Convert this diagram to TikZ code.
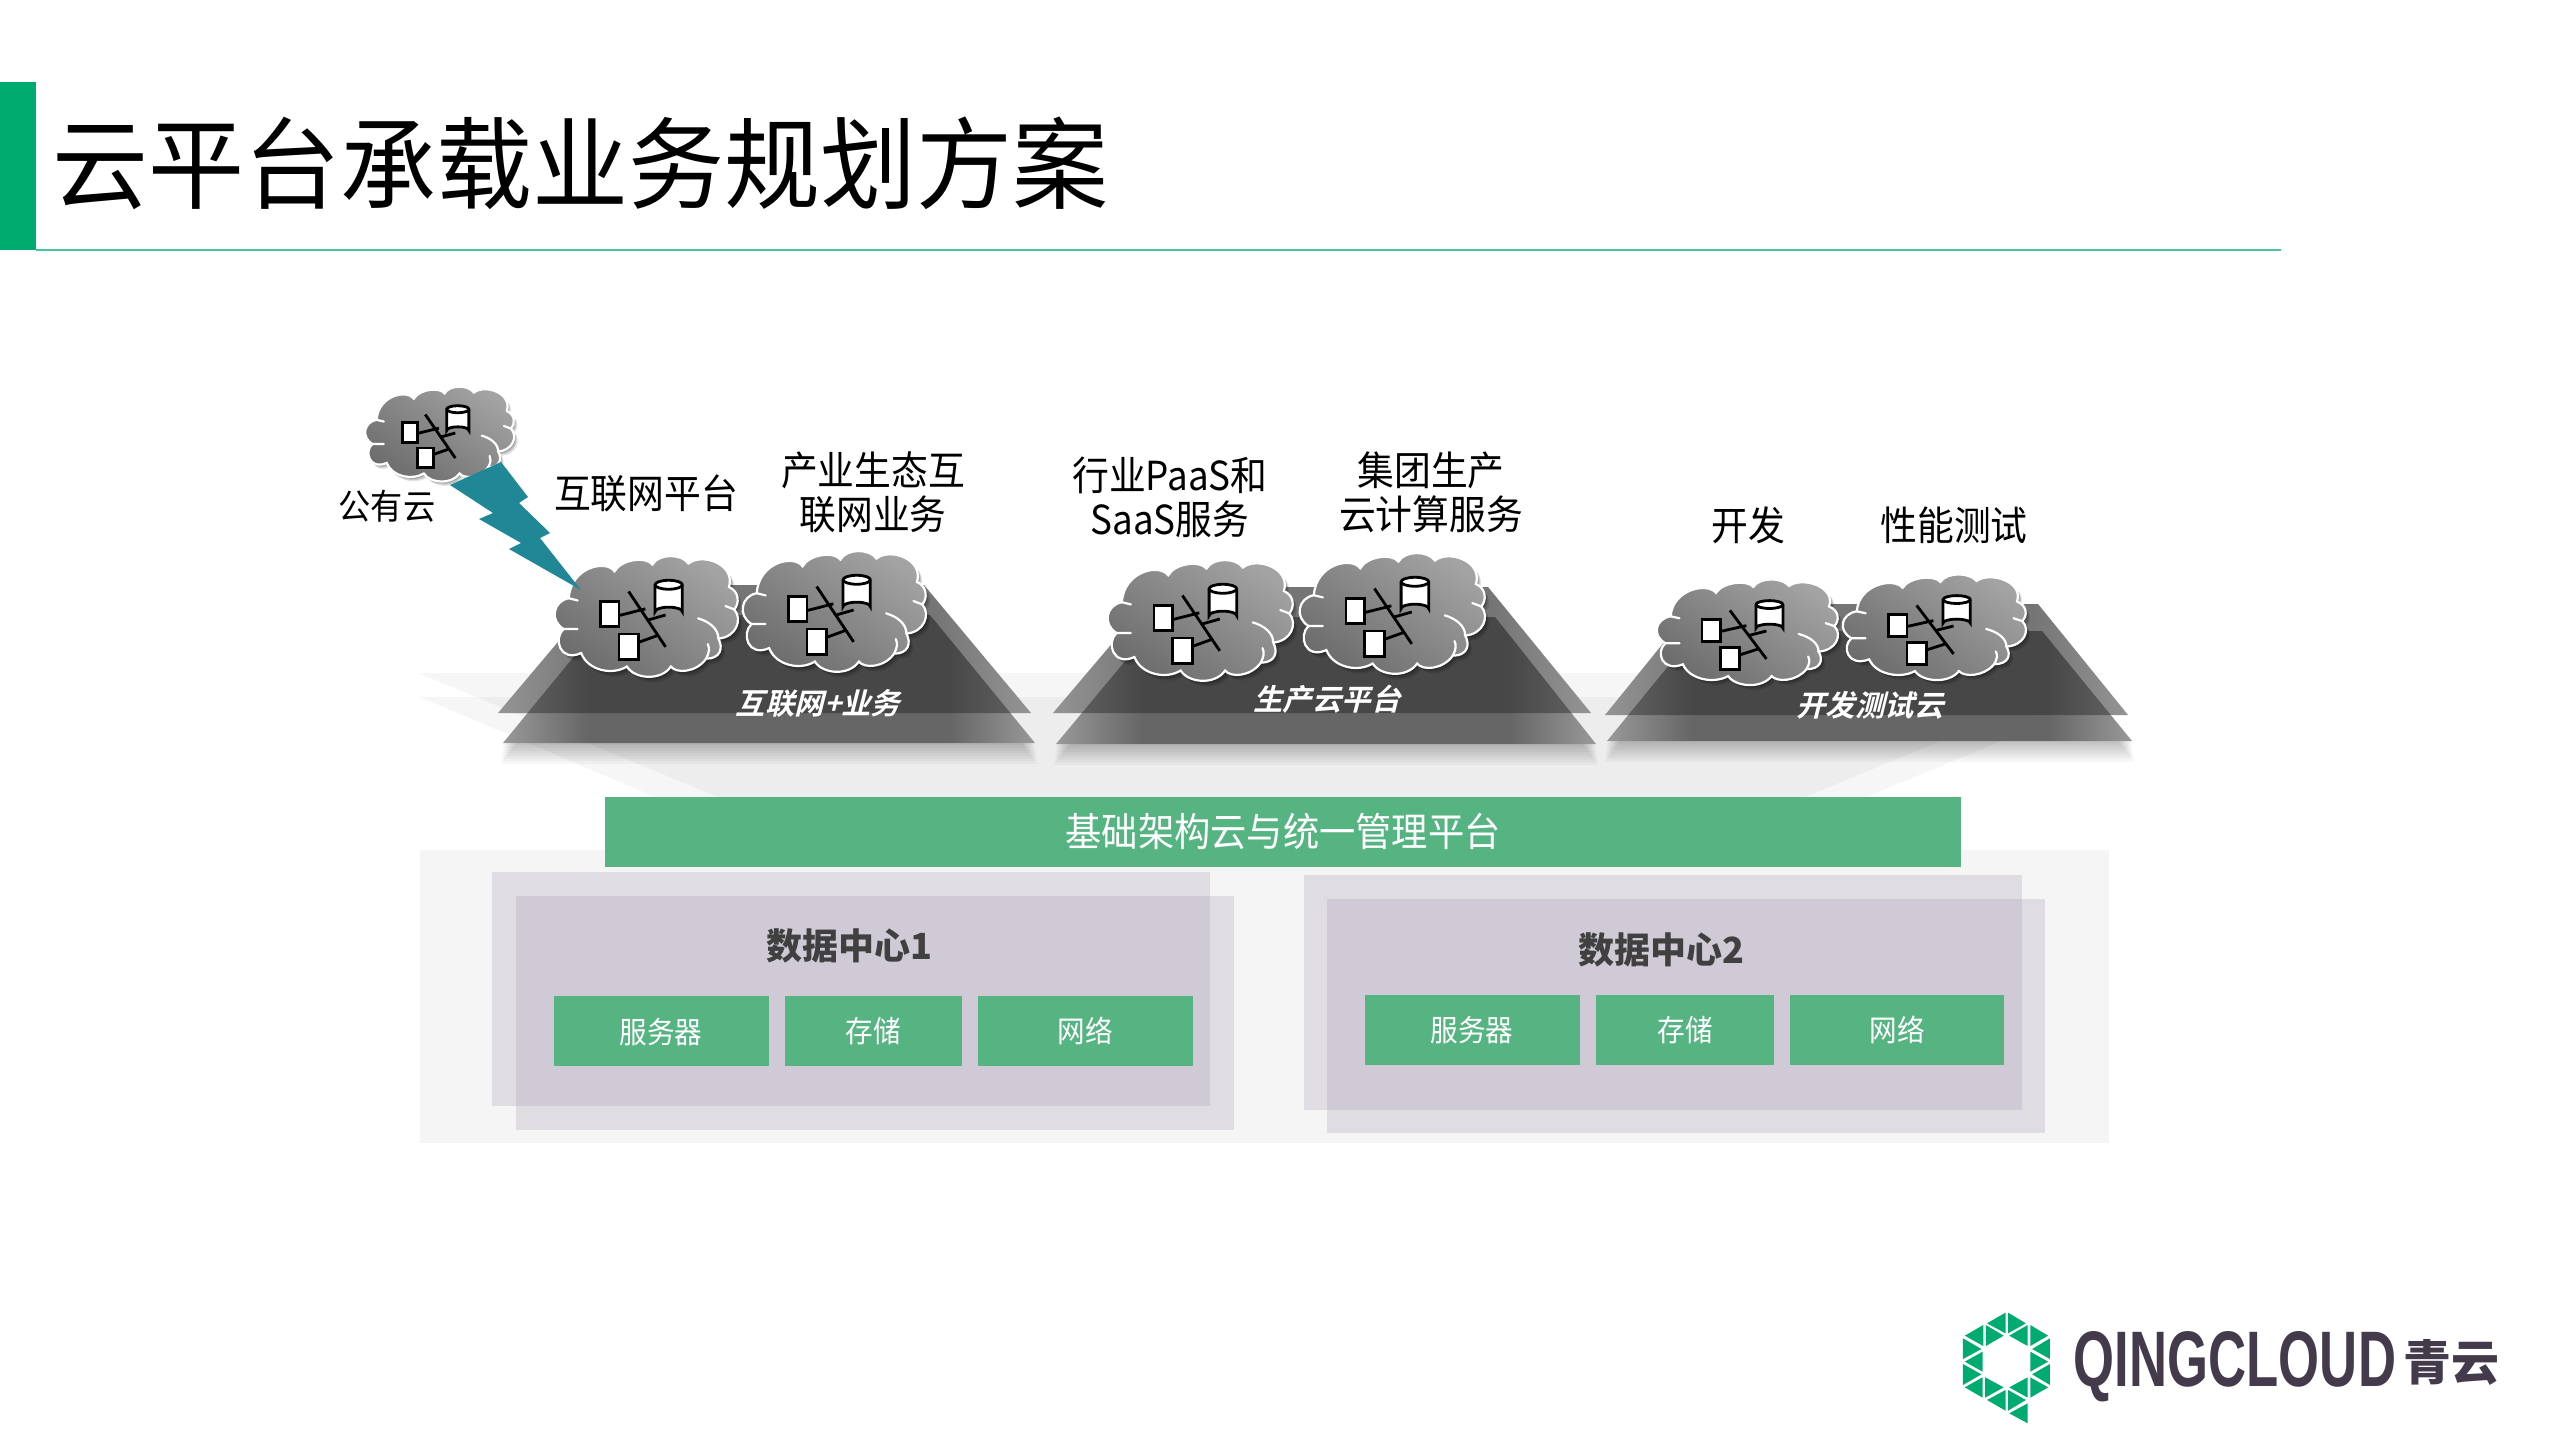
\documentclass[tikz,border=0pt]{standalone}
\usepackage{fontspec}
\usetikzlibrary{calc}
\newfontfamily\cjk{Noto Sans CJK SC}
\newfontfamily\cjkslant[FakeSlant=0.25]{Noto Sans CJK SC Bold}
\newfontfamily\cjktitle[FakeStretch=0.96]{Noto Sans CJK SC}
\newfontfamily\cjkn[FakeStretch=0.92]{Noto Sans CJK SC}
\newfontfamily\wordfont{Liberation Sans}
\definecolor{brand}{HTML}{00AB6F}
\definecolor{greenbox}{HTML}{56B482}
\definecolor{teal}{HTML}{1F8796}
\definecolor{dcl}{HTML}{DFDCE2}
\definecolor{dcd}{HTML}{CFCAD5}
\definecolor{logotext}{HTML}{433A4B}
\pgfdeclarehorizontalshading{upshade}{100bp}{color(0bp)=(black!42); color(25bp)=(black!42); color(34bp)=(black!54); color(66bp)=(black!54); color(75bp)=(black!42); color(100bp)=(black!42)}
\pgfdeclarehorizontalshading{lowshade}{100bp}{color(0bp)=(black!40); color(25bp)=(black!40); color(33bp)=(black!60); color(67bp)=(black!60); color(75bp)=(black!40); color(100bp)=(black!40)}
\pgfdeclarehorizontalshading{overshade}{100bp}{color(0bp)=(black!60); color(25bp)=(black!60); color(33bp)=(black!72); color(67bp)=(black!72); color(75bp)=(black!60); color(100bp)=(black!60)}
\tikzset{
  lab/.style={font=\cjkn\fontsize{20}{22}\selectfont,text=black,inner sep=0pt,align=center},
  whitelab/.style={font=\cjkn\fontsize{#1}{22}\selectfont,text=white,inner sep=0pt},
  slantlab/.style={font=\cjkslant\fontsize{14.7}{17}\selectfont,text=white,inner sep=0pt},
  dctitle/.style={font=\cjk\bfseries\fontsize{18}{20}\selectfont,text=black!75,inner sep=0pt},
  gbox/.style={fill=greenbox,draw=none},
  logotri/.style={fill=brand,draw=none},
}
\def\cloudshape{(-.90,-.30) .. controls (-.88,-.85) and (-.48,-1.0) .. (-.38,-.78)
 .. controls (-.3,-1.0) and (-.02,-1.05) .. (.05,-.90)
 .. controls (.12,-1.1) and (.38,-1.1) .. (.46,-.92)
 .. controls (.62,-1.12) and (1.0,-.9) .. (.92,-.50)
 .. controls (1.04,-.42) and (1.04,-.2) .. (.98,-.10)
 .. controls (1.08,.08) and (1.0,.4) .. (.80,.42)
 .. controls (.86,.6) and (.82,.78) .. (.66,.78)
 .. controls (.55,1.03) and (.32,1.05) .. (.26,.92)
 .. controls (.15,1.18) and (-.15,1.15) .. (-.24,.92)
 .. controls (-.4,1.08) and (-.68,1.0) .. (-.76,.68)
 .. controls (-1.0,.85) and (-1.08,.42) .. (-.96,.25)
 .. controls (-1.12,.1) and (-1.08,-.25) .. (-.90,-.30) -- cycle}
\newcommand{\cloudat}[4]{%
 \begin{scope}[shift={(#1,#2)},xscale=#3/2,yscale=#4/2]
  \foreach \s/\o in {.10/.10,.07/.14,.04/.20}{
    \fill[black,opacity=\o,shift={(\s*.5,\s)}] \cloudshape;}
  \shade[shading=axis,bottom color=black!58,top color=black!36,shading angle=-35,draw=white,line width=1.1pt] \cloudshape;
  \draw[white,line width=1.1pt,line cap=round]
    (.57,.06) .. controls (.7,.12) and (.8,.25) .. (.80,.42)
    (.98,-.10) -- (.88,-.16)
    (-.96,.25) -- (-.80,.25)
    (-.90,-.30) -- (-.80,-.26)
    (.66,.78) .. controls (.70,.65) and (.70,.6) .. (.68,.52);
  \draw[black,line width=1.4pt] (-.22,-.42) -- (.2,.57)
    (-.33,.01) -- (-.03,-.11) (-.11,.49) -- (.1,.37) (0,.09) -- (.2,0);
  \fill[white,draw=black,line width=1.4pt] (-.54,-.24) rectangle (-.33,.21);
  \fill[white,draw=black,line width=1.4pt] (-.33,.34) rectangle (-.11,.79);
  \fill[white,draw=black,line width=1.4pt] (.08,-.54) -- (.08,-.06) arc[start angle=180,end angle=360,x radius=.155,y radius=.08] -- (.39,-.54) arc[start angle=0,end angle=-180,x radius=.155,y radius=.08] -- cycle;
  \draw[black,line width=1.4pt] (.08,-.54) arc[start angle=180,end angle=0,x radius=.155,y radius=.08];
 \end{scope}}
\newcommand{\trapgroup}[8]{%
  \foreach \i in {1,...,8}{
    \fill[black,opacity=.03] ($#5+(\i*-.2,\i*1.5)$) -- ($#6+(\i*.2,\i*1.5)$) -- ($#7+(\i*.3,\i*2.6)$) -- ($#8+(\i*-.3,\i*2.6)$) -- cycle;}
  \shade[shading=lowshade] #5 -- #6 -- #7 -- #8 -- cycle;
  \shade[shading=upshade] #1 -- #2 -- #3 -- #4 -- cycle;
  \begin{scope}
    \clip #1 -- #2 -- #3 -- #4 -- cycle;
    \shade[shading=overshade] #5 -- #6 -- #7 -- #8 -- cycle;
  \end{scope}}
\begin{document}
\begin{tikzpicture}[x=0.5pt,y=-0.5pt]
\useasboundingbox (0,0) rectangle (2559,1439);
\fill[white] (0,0) rectangle (2559,1439);
% title
\fill[brand] (0,82) rectangle (36,250);
\draw[brand!70,line width=1pt] (36,250.5) -- (2281,250.5);
\node[anchor=west,inner sep=0pt,font=\cjktitle\fontsize{50}{52}\selectfont] (title) at (52,163) {云平台承载业务规划方案};
% background wedges
\fill[black,opacity=.035] (418,673) -- (2105,673) -- (1805,797) -- (718,797) -- cycle;
\fill[black,opacity=.035] (420,697) -- (2108,697) -- (1866,797) -- (655,797) -- cycle;
% bottom panels
\fill[black!4] (420,850) rectangle (2109,1143);
\fill[dcl] (492,872) rectangle (1210,1106);
\fill[dcl] (516,896) rectangle (1234,1130);
\fill[dcd] (516,896) rectangle (1210,1106);
\fill[dcl] (1304,875) rectangle (2022,1110);
\fill[dcl] (1327,899) rectangle (2045,1133);
\fill[dcd] (1327,899) rectangle (2022,1110);
% green bar
\fill[greenbox] (605,797) rectangle (1961,867);
\node[whitelab=19.7] (infra) at (1283,832) {基础架构云与统一管理平台};
% data centres
\node[dctitle] (dc1) at (849,946) {数据中心1};
\node[dctitle] (dc2) at (1661,950) {数据中心2};
\fill[gbox] (554,996) rectangle (769,1066);
\fill[gbox] (785,996) rectangle (962,1066);
\fill[gbox] (978,996) rectangle (1193,1066);
\fill[gbox] (1365,995) rectangle (1580,1065);
\fill[gbox] (1596,995) rectangle (1774,1065);
\fill[gbox] (1790,995) rectangle (2004,1065);
\node[whitelab=15] (s1) at (661,1032) {服务器};
\node[whitelab=15] (t1) at (873,1031) {存储};
\node[whitelab=15] (n1) at (1085,1031) {网络};
\node[whitelab=15] (s2) at (1472,1030) {服务器};
\node[whitelab=15] (t2) at (1685,1030) {存储};
\node[whitelab=15] (n2) at (1897,1030) {网络};
% platforms
\trapgroup{(606,585)}{(924,585)}{(1031,713)}{(498,713)}{(608,615)}{(930,615)}{(1035,743)}{(503,743)}
\trapgroup{(1160,587)}{(1488,587)}{(1591,713)}{(1053,713)}{(1162,617)}{(1495,617)}{(1596,744)}{(1056,744)}
\trapgroup{(1695,604)}{(2038,604)}{(2128,715)}{(1605,715)}{(1697,631)}{(2042,631)}{(2132,741)}{(1607,741)}
\node[slantlab] (p1) at (818,703) {互联网+业务};
\node[slantlab] (p2) at (1327,699) {生产云平台};
\node[slantlab] (p3) at (1870,705) {开发测试云};
% clouds
\cloudat{441}{433}{143}{88}
\cloudat{648}{615}{176}{112}
\cloudat{836}{610}{176}{112}
\cloudat{1202}{619}{178}{112}
\cloudat{1394}{612}{178}{112}
\cloudat{1749}{631}{174}{98}
\cloudat{1936}{626}{176}{98}
% bolt
\fill[teal] (501,462) -- (528,497) -- (519,503) -- (550,533) -- (540,538) -- (581,590) -- (509,549) -- (521,543) -- (479,519) -- (493,513) -- (450,485) -- cycle;
% labels
\node[lab,font=\cjkn\fontsize{17.5}{20}\selectfont] (pub) at (387,506) {公有云};
\node[lab] (a) at (646,493) {互联网平台};
\node[lab] (b1) at (873,492) {产业生态互\\[-.1pt]联网业务};
\node[lab] (b2) at (1170,497) {行业PaaS和\\[-.1pt]SaaS服务};
\node[lab] (b3) at (1431,492) {集团生产\\[-.1pt]云计算服务};
\node[lab] (c1) at (1748,525) {开发};
\node[lab] (c2) at (1954,525) {性能测试};
% logo
\begin{scope}[shift={(1950,1290)},xscale=.37,yscale=.3333]
\foreach \a/\b/\c/\d/\e/\f in {100/100/150/68/150/130,157/68/205/100/157/130,40/137/90/105/90/168,97/105/145/137/97/168,160/137/210/105/210/168,217/105/265/137/217/168,35/145/85/177/35/207,40/215/88/185/88/245,270/145/222/177/270/207,265/215/217/185/217/245,35/222/85/253/35/285,270/222/222/253/270/285,40/292/88/262/88/323,95/262/145/292/95/323,160/292/210/262/210/323,217/262/265/292/217/323,100/330/150/300/150/362,157/300/205/330/157/362,160/370/210/340/210/400}{
  \fill[logotri] (\a,\b) -- (\c,\d) -- (\e,\f) -- cycle;}
\end{scope}
\node[inner sep=0pt,text=logotext] (qc) at (2235,1367) {\resizebox{161pt}{27.5pt}{\wordfont\bfseries QINGCLOUD}};
\node[inner sep=0pt,text=logotext,font=\cjk\bfseries\fontsize{24}{26}\selectfont] (qy) at (2451,1362) {青云};
\end{tikzpicture}
\end{document}
